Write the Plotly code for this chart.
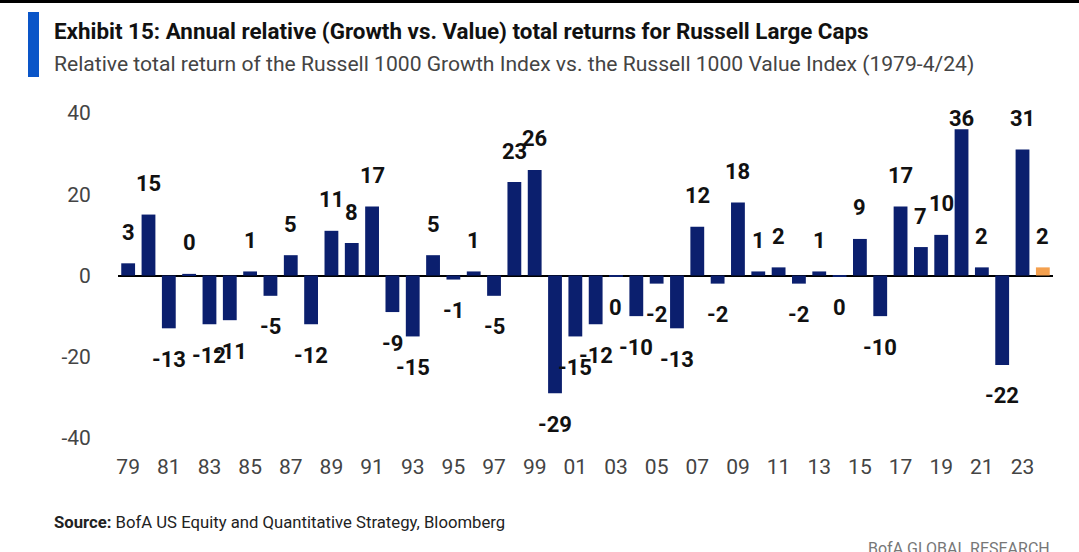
import plotly.graph_objects as go

years = list(range(1979, 2025))
values = [3, 15, -13, 0.4, -12, -11, 1, -5, 5, -12,
          11, 8, 17, -9, -15, 5, -1, 1, -5, 23,
          26, -29, -15, -12, -0.3, -10, -2, -13, 12, -2,
          18, 1, 2, -2, 1, -0.3, 9, -10, 17, 7,
          10, 36, 2, -22, 31, 2]
labels = ["3", "15", "-13", "0", "-12", "-11", "1", "-5", "5", "-12",
          "11", "8", "17", "-9", "-15", "5", "-1", "1", "-5", "23",
          "26", "-29", "-15", "-12", "0", "-10", "-2", "-13", "12", "-2",
          "18", "1", "2", "-2", "1", "0", "9", "-10", "17", "7",
          "10", "36", "2", "-22", "31", "2"]
tick_years = list(range(1979, 2024, 2))
tick_text = [f"{y % 100:02d}" for y in tick_years]
y_ticks = [-40, -20, 0, 20, 40]
y_tick_text = ["-40", "-20", "0", "20", "40"]

NAVY = "#0B1F6E"
ORANGE = "#F4A04E"
colors = [NAVY] * (len(years) - 1) + [ORANGE]

FONT = "Roboto, Liberation Sans, sans-serif"

W, H = 1079, 552
L, R, T, B = 118, 26, 113, 114
PW, PH = W - L - R, H - T - B
LABEL_CAP = 31  # labels are held inside the top of the chart area


def px(x):
    return (x - L) / PW


def py(y):
    return (H - B - y) / PH


fig = go.Figure()
fig.add_trace(go.Bar(x=years, y=values, marker_color=colors, marker_line_width=0,
                     width=0.68, hoverinfo="x+y"))

for yr, v, t in zip(years, values, labels):
    fig.add_annotation(x=yr, y=min(v, LABEL_CAP), text=f"<b>{t}</b>", showarrow=False,
                       yshift=31 if v >= 0 else -31,
                       font=dict(family=FONT, size=22, color="#111111"))

fig.update_layout(
    width=W, height=H,
    margin=dict(l=L, r=R, t=T, b=B),
    paper_bgcolor="white", plot_bgcolor="white",
    showlegend=False, bargap=0.3,
    xaxis=dict(range=[1978.5, 2024.5], tickvals=tick_years, ticktext=tick_text,
               showgrid=False, zeroline=False, showline=False,
               ticks="outside", ticklen=10, tickcolor="rgba(0,0,0,0)",
               tickfont=dict(family=FONT, size=21, color="#444444")),
    yaxis=dict(range=[-40, 40], tickvals=y_ticks, ticktext=y_tick_text,
               showgrid=False,
               zeroline=True, zerolinecolor="#000000", zerolinewidth=2,
               showline=False, ticks="outside", ticklen=22,
               tickcolor="rgba(0,0,0,0)",
               tickfont=dict(family=FONT, size=21, color="#444444")),
)

# Top dark strip
fig.add_shape(type="rect", xref="paper", yref="paper",
              x0=px(0), x1=px(W), y0=py(3), y1=py(0),
              fillcolor="#000000", line_width=0, layer="above")
# Header accent bar
fig.add_shape(type="rect", xref="paper", yref="paper",
              x0=px(28), x1=px(39), y0=py(77), y1=py(12),
              fillcolor="#0A55C8", line_width=0, layer="above")

fig.add_annotation(xref="paper", yref="paper", x=px(52), y=py(16),
                   xanchor="left", yanchor="top", showarrow=False,
                   text="<b>Exhibit 15: Annual relative (Growth vs. Value) total returns for Russell Large Caps</b>",
                   font=dict(family=FONT, size=22.4, color="#111111"))
fig.add_annotation(xref="paper", yref="paper", x=px(52), y=py(49),
                   xanchor="left", yanchor="top", showarrow=False,
                   text="Relative total return of the Russell 1000 Growth Index vs. the Russell 1000 Value Index (1979-4/24)",
                   font=dict(family=FONT, size=21.1, color="#444444"))
fig.add_annotation(xref="paper", yref="paper", x=px(52), y=py(511),
                   xanchor="left", yanchor="top", showarrow=False,
                   text="<b>Source:</b> BofA US Equity and Quantitative Strategy, Bloomberg",
                   font=dict(family=FONT, size=16.7, color="#222222"))
fig.add_annotation(xref="paper", yref="paper", x=px(1052), y=py(537),
                   xanchor="right", yanchor="top", showarrow=False,
                   text="BofA GLOBAL RESEARCH",
                   font=dict(family=FONT, size=16, color="#777777"))

fig.write_html("out.html", config={"displayModeBar": False},
               post_script="document.body.style.margin='0';")
